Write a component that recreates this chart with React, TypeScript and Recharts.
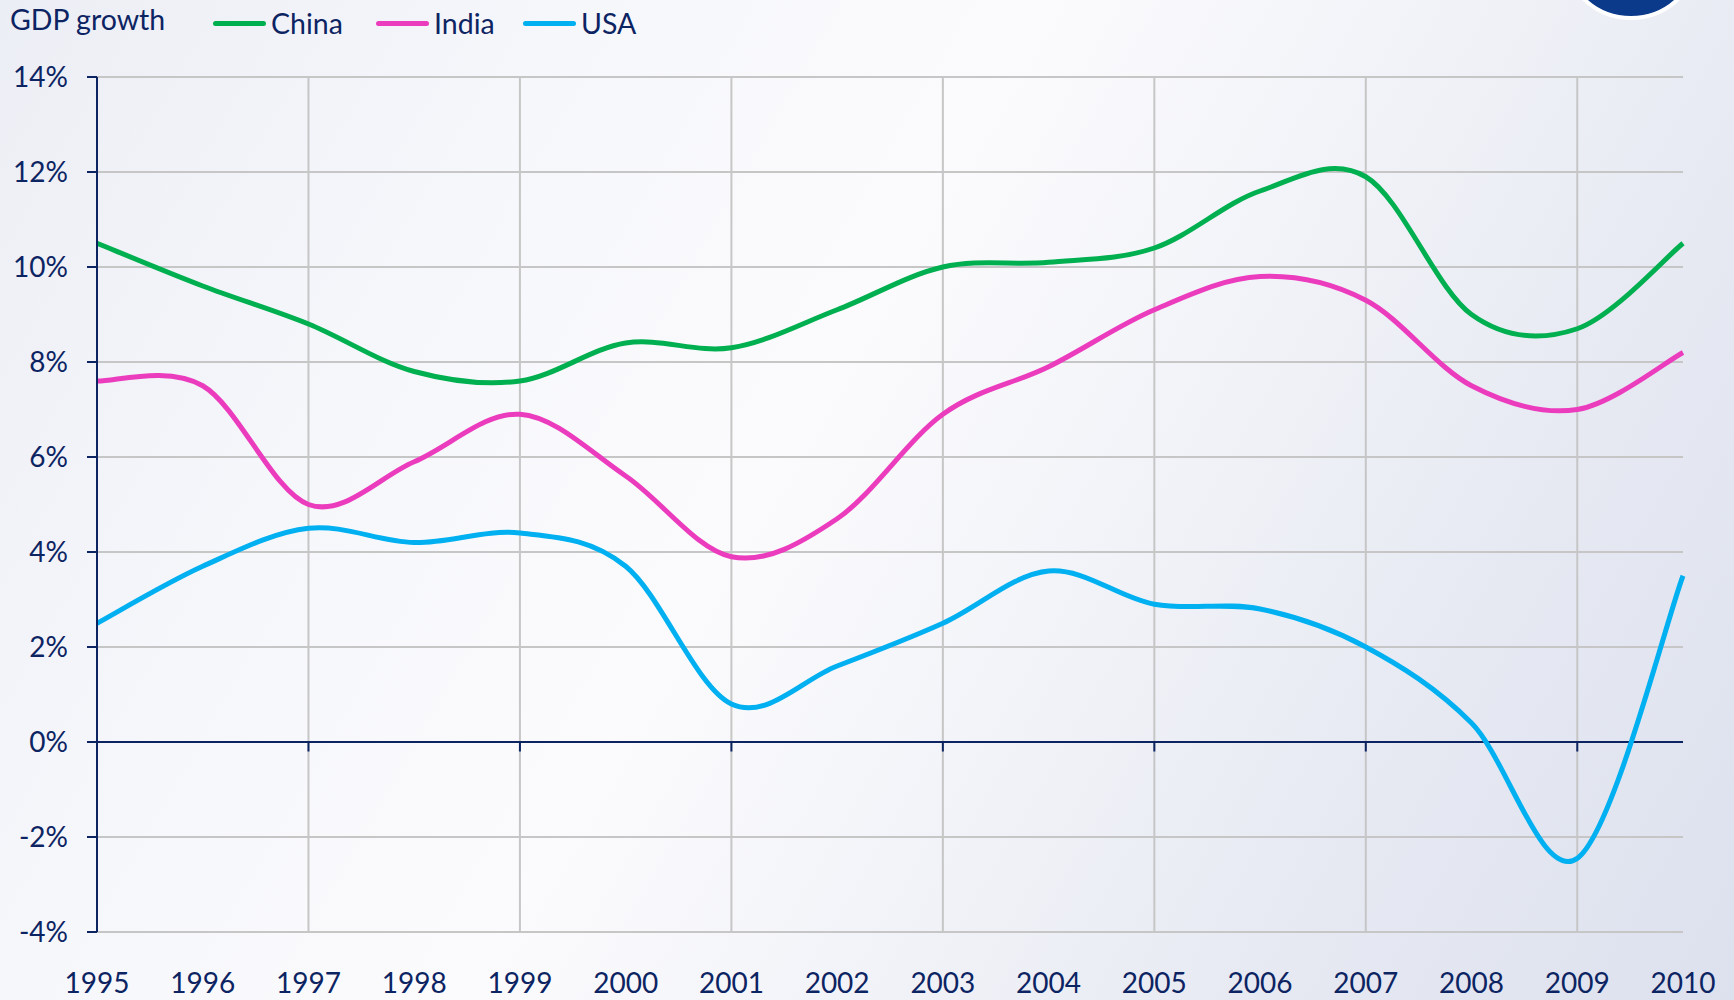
import React from 'react';
import { LineChart, Line, XAxis, YAxis, CartesianGrid, ReferenceLine } from 'recharts';

const YEARS = [1995, 1996, 1997, 1998, 1999, 2000, 2001, 2002, 2003, 2004, 2005, 2006, 2007, 2008, 2009, 2010];
const CHINA = [10.5, 9.6, 8.8, 7.8, 7.6, 8.4, 8.3, 9.1, 10.0, 10.1, 10.4, 11.6, 11.9, 9.0, 8.7, 10.5];
const INDIA = [7.6, 7.5, 5.0, 5.9, 6.9, 5.6, 3.9, 4.7, 6.9, 7.9, 9.1, 9.8, 9.3, 7.5, 7.0, 8.2];
const USA = [2.5, 3.7, 4.5, 4.2, 4.4, 3.7, 0.8, 1.6, 2.5, 3.6, 2.9, 2.8, 2.0, 0.4, -2.45, 3.5];
const Y_TICKS = [-4, -2, 0, 2, 4, 6, 8, 10, 12, 14];
const GRID_YEARS = [1997, 1999, 2001, 2003, 2005, 2007, 2009];

const SERIES = [
  { key: 'China', color: '#00b050', left: 213 },
  { key: 'India', color: '#ec3cbe', left: 376 },
  { key: 'USA', color: '#00b0f0', left: 523 },
];

const data = YEARS.map((year, i) => ({ year, China: CHINA[i], India: INDIA[i], USA: USA[i] }));

const NAVY = '#0d2463';
const GRID = '#c6c6c6';
const FONT = 'Lato, "Open Sans", sans-serif';

// Excel style smoothed line (Catmull-Rom through every point)
const smoothCurve = (context: any) => {
  let pts: number[][] = [];
  return {
    areaStart() {},
    areaEnd() {},
    lineStart() { pts = []; },
    point(x: number, y: number) { pts.push([+x, +y]); },
    lineEnd() {
      if (!pts.length) return;
      context.moveTo(pts[0][0], pts[0][1]);
      for (let i = 0; i < pts.length - 1; i++) {
        const p0 = pts[i - 1] || pts[i];
        const p1 = pts[i];
        const p2 = pts[i + 1];
        const p3 = pts[i + 2] || p2;
        context.bezierCurveTo(
          p1[0] + (p2[0] - p0[0]) / 6, p1[1] + (p2[1] - p0[1]) / 6,
          p2[0] - (p3[0] - p1[0]) / 6, p2[1] - (p3[1] - p1[1]) / 6,
          p2[0], p2[1],
        );
      }
    },
  };
};

const Header = () => (
  <div style={{ position: 'absolute', left: 0, top: 0, height: 46, width: 700, fontFamily: FONT, fontSize: 28.5, color: NAVY, whiteSpace: 'nowrap' }}>
    <span style={{ position: 'absolute', left: 10, top: 2 }}>GDP growth</span>
    {SERIES.map((s) => (
      <span key={s.key} style={{ position: 'absolute', left: s.left, top: 6, display: 'flex', alignItems: 'center' }}>
        <span style={{ display: 'inline-block', width: 53, height: 5, borderRadius: 3, background: s.color, marginRight: 5 }} />
        {s.key}
      </span>
    ))}
  </div>
);

export default function App() {
  return (
    <div
      style={{
        position: 'absolute', left: 0, top: 0, width: 1734, height: 1000, overflow: 'hidden',
        background: 'linear-gradient(120deg, #eceef5 0%, #f6f7fb 25%, #fbfbfd 45%, #f3f4f9 60%, #e6e9f2 80%, #dde1ee 100%)',
      }}
    >
      <div style={{ position: 'absolute', left: 1561, top: -120, width: 140, height: 140, borderRadius: '50%', background: '#0b3a8a', border: '4px solid #fff', boxSizing: 'border-box' }} />
      <Header />
      <LineChart width={1734} height={1000} data={data} margin={{ top: 77, right: 51, bottom: 0, left: 0 }}>
        <CartesianGrid vertical={false} stroke={GRID} strokeWidth={2} />
        {GRID_YEARS.map((y) => (
          <ReferenceLine key={`g${y}`} x={y} stroke={GRID} strokeWidth={2} />
        ))}
        <XAxis
          dataKey="year"
          type="number"
          domain={[1995, 2010]}
          ticks={YEARS}
          interval={0}
          height={68}
          axisLine={false}
          tickLine={false}
          tickMargin={35}
          tick={{ fill: NAVY, fontSize: 28, fontFamily: FONT }}
        />
        <YAxis
          width={97}
          domain={[-4, 14]}
          ticks={Y_TICKS}
          interval={0}
          tickFormatter={(v) => `${v}%`}
          axisLine={{ stroke: NAVY, strokeWidth: 2 }}
          tickLine={{ stroke: NAVY, strokeWidth: 2 }}
          tickSize={10}
          tickMargin={19}
          tick={{ fill: NAVY, fontSize: 28, fontFamily: FONT }}
        />
        <ReferenceLine y={0} stroke={NAVY} strokeWidth={2} />
        {GRID_YEARS.map((y) => (
          <ReferenceLine key={`t${y}`} segment={[{ x: y, y: 0 }, { x: y, y: -0.2 }]} stroke={NAVY} strokeWidth={2} />
        ))}
        {SERIES.map((s) => (
          <Line
            key={s.key}
            dataKey={s.key}
            type={smoothCurve as any}
            stroke={s.color}
            strokeWidth={5}
            dot={false}
            isAnimationActive={false}
          />
        ))}
      </LineChart>
    </div>
  );
}
